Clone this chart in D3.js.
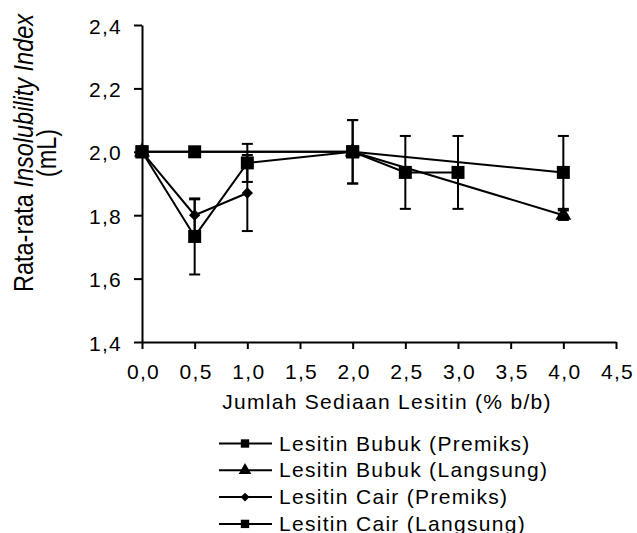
<!DOCTYPE html>
<html>
<head>
<meta charset="utf-8">
<script src="https://cdn.jsdelivr.net/npm/d3@7"></script>
<style>
  body { margin: 0; background: #fff; }
  svg { display: block; font-family: "Liberation Sans", Arial, sans-serif; }
</style>
</head>
<body>
<div id="chart"></div>
<script>
// ticks
const xTicks = [0, 0.5, 1, 1.5, 2, 2.5, 3, 3.5, 4, 4.5];
const yTicks = [1.4, 1.6, 1.8, 2.0, 2.2, 2.4];

// series (x = % b/b, y = mL, err = +/-)
const bubukPremiksX = [0, 0.5, 2, 4];
const bubukPremiksY = [2.0, 2.0, 2.0, 1.935];
const bubukPremiksErr = [0, 0.01, 0.1, 0.115];

const bubukLangsungX = [0, 2, 4];
const bubukLangsungY = [2.0, 2.0, 1.80];
const bubukLangsungErr = [0, 0, 0.015];

const cairPremiksX = [0, 0.5, 1];
const cairPremiksY = [2.0, 1.80, 1.87];
const cairPremiksErr = [0, 0.05, 0.12];

const cairLangsungX = [0, 0.5, 1, 2, 2.5, 3];
const cairLangsungY = [2.0, 1.733, 1.965, 2.0, 1.935, 1.935];
const cairLangsungErr = [0, 0.12, 0.06, 0.1, 0.115, 0.115];

const seriesNames = ['Lesitin Bubuk (Premiks)', 'Lesitin Bubuk (Langsung)', 'Lesitin Cair (Premiks)', 'Lesitin Cair (Langsung)'];
const seriesSymbols = [d3.symbolSquare, d3.symbolTriangle, d3.symbolSquare, d3.symbolSquare];
const seriesRotate = [0, 0, 45, 0]; // diamond = rotated square

const zip = (xs, ys, es) => xs.map((x, i) => ({x: x, y: ys[i], e: es[i]}));
const series = [
  zip(bubukPremiksX, bubukPremiksY, bubukPremiksErr),
  zip(bubukLangsungX, bubukLangsungY, bubukLangsungErr),
  zip(cairPremiksX, cairPremiksY, cairPremiksErr),
  zip(cairLangsungX, cairLangsungY, cairLangsungErr)
];

const W = 637, H = 533;
const locale = d3.formatLocale({decimal: ',', thousands: '.', grouping: [3], currency: ['', '']});
const fmt = locale.format('.1f');

const svg = d3.select('#chart').append('svg')
  .attr('width', W)
  .attr('height', H);

const x = d3.scaleLinear().domain([0, 4.5]).range([142, 616]);
const y = d3.scaleLinear().domain([1.4, 2.4]).range([342, 25]);

//axes
const yAxis = svg.append('g')
  .attr('transform', 'translate(142,0)')
  .call(d3.axisLeft(y).tickValues(yTicks).tickFormat(fmt).tickSize(8).tickSizeOuter(0));
const xAxis = svg.append('g')
  .attr('transform', 'translate(0,342)')
  .call(d3.axisBottom(x).tickValues(xTicks).tickFormat(fmt).tickSize(7).tickSizeOuter(0));

[yAxis, xAxis].forEach(ax => {
  ax.select('.domain').attr('stroke', '#000').attr('stroke-width', 2);
  ax.selectAll('.tick line').attr('stroke', '#000').attr('stroke-width', 2);
  ax.selectAll('.tick text')
    .attr('fill', '#000')
    .style('font-size', '21px')
    .style('letter-spacing', '1.3px')
    .attr('dy', null);
});
yAxis.selectAll('.tick text').attr('x', -20).attr('y', 8);
xAxis.selectAll('.tick text').attr('x', 1).attr('y', 37);

//axis titles
svg.append('text')
  .attr('x', 387).attr('y', 409)
  .attr('text-anchor', 'middle')
  .style('font-size', '21px')
  .style('letter-spacing', '1.3px')
  .text('Jumlah Sediaan Lesitin (% b/b)');

const yt = svg.append('text')
  .attr('transform', 'translate(33,153) rotate(-90) scale(1,1.14)')
  .attr('text-anchor', 'middle')
  .style('font-size', '23.5px');
yt.append('tspan').text('Rata-rata ');
yt.append('tspan').style('font-style', 'italic').text('Insolubility Index');
svg.append('text')
  .attr('transform', 'translate(56,153) rotate(-90) scale(1,1.14)')
  .attr('text-anchor', 'middle')
  .style('font-size', '23.5px')
  .text('(mL)');

//lines
const line = d3.line().x(d => x(d.x)).y(d => y(d.y));
svg.append('g').selectAll('path')
  .data(series)
  .join('path')
  .attr('d', line)
  .attr('fill', 'none')
  .attr('stroke', '#000')
  .attr('stroke-width', 2);

//error bars
const errG = svg.append('g').attr('stroke', '#000').attr('stroke-width', 2);
series.forEach(s => {
  s.filter(d => d.e > 0).forEach(d => {
    const cx = x(d.x);
    errG.append('line').attr('x1', cx).attr('x2', cx).attr('y1', y(d.y - d.e)).attr('y2', y(d.y + d.e));
    [d.y - d.e, d.y + d.e].forEach(v => {
      errG.append('line').attr('x1', cx - 5.5).attr('x2', cx + 5.5).attr('y1', y(v)).attr('y2', y(v));
    });
  });
});

//markers
const markerSize = [169, 110, 64, 169];
series.forEach((s, i) => {
  svg.append('g').selectAll('path')
    .data(s)
    .join('path')
    .attr('transform', d => `translate(${x(d.x)},${y(d.y)}) rotate(${seriesRotate[i]})`)
    .attr('d', d3.symbol().type(seriesSymbols[i]).size(markerSize[i]))
    .attr('fill', '#000');
});

//legend
const legend = svg.append('g');
seriesNames.forEach((name, i) => {
  const ly = 443.5 + i * 26.8;
  legend.append('line').attr('x1', 219).attr('x2', 272).attr('y1', ly).attr('y2', ly)
    .attr('stroke', '#000').attr('stroke-width', 2);
  legend.append('path')
    .attr('transform', `translate(245,${ly}) rotate(${seriesRotate[i]})`)
    .attr('d', d3.symbol().type(seriesSymbols[i]).size(i === 2 ? 40 : 70))
    .attr('fill', '#000');
  legend.append('text')
    .attr('x', 279).attr('y', ly + 7)
    .style('font-size', '21px')
    .style('letter-spacing', '1.3px')
    .text(name);
});
</script>
</body>
</html>
